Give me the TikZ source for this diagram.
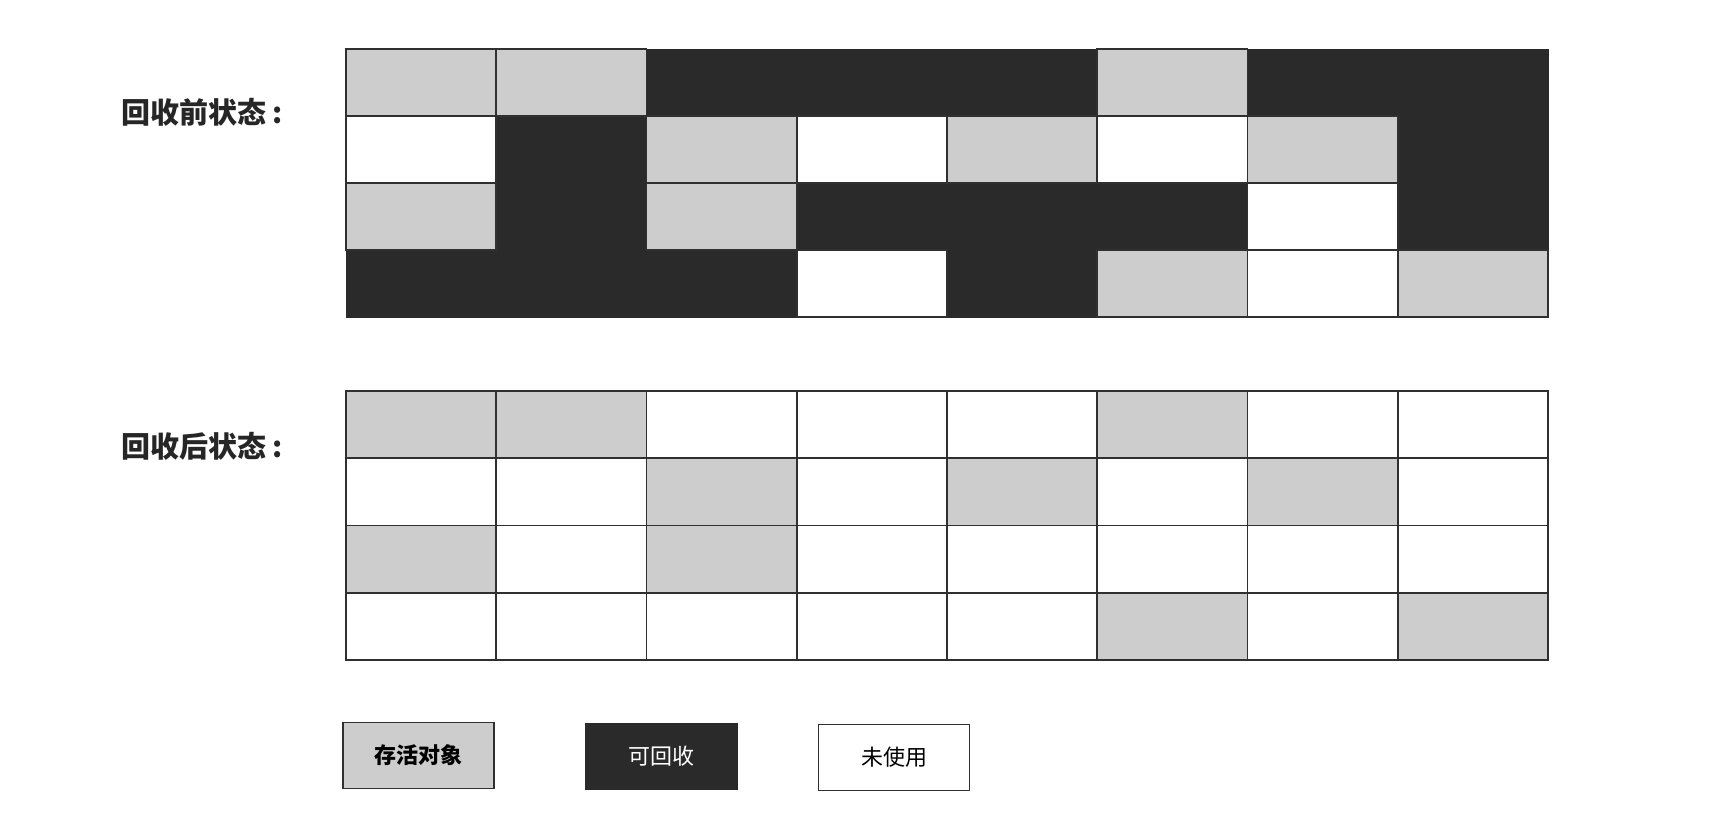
\documentclass[tikz,border=0pt]{standalone}
\usepackage{fontspec}
\newfontfamily\cjk{Noto Sans CJK SC}
\definecolor{live}{HTML}{CDCDCD}
\definecolor{dead}{HTML}{2A2A2A}
\definecolor{linec}{HTML}{303030}
\tikzset{
  s1G/.style={}, s1W/.style={}, s1B/.style={fill=dead,draw=dead,line width=1pt},
  s2B/.style={}, s2G/.style={fill=live,draw=linec,line width=1.8pt},
  s2W/.style={fill=white,draw=linec,line width=1.8pt},
  statelabel/.style={anchor=west,inner sep=0pt,font=\cjk\bfseries\fontsize{29}{32}\selectfont,text=black!85},
  legendbox/.style={minimum width=151pt,minimum height=66pt,inner sep=0pt,line width=1.8pt,draw=linec,font=\cjk\fontsize{22}{26}\selectfont}
}
\begin{document}
\begin{tikzpicture}[x=1pt,y=-1pt]
\useasboundingbox[fill=white] (0,0) rectangle (1732,828);
% before collection
\def\gx{346}\def\cw{150.25}\def\gy{49}\def\rh{67}
\foreach \pass in {1,2}{
\foreach \row [count=\r from 0] in {{G,G,B,B,B,G,B,B},{W,B,G,W,G,W,G,B},{G,B,G,B,B,B,W,B},{B,B,B,W,B,G,W,G}}{
  \foreach \c [count=\k from 0] in \row {
    \path[s\pass\c] ({\gx+\k*\cw},{\gy+\r*\rh}) rectangle ({\gx+(\k+1)*\cw},{\gy+(\r+1)*\rh});
  }
}}
% after collection
\def\hy{391}\def\rhb{67.25}
\foreach \row [count=\r from 0] in {{G,G,W,W,W,G,W,W},{W,W,G,W,G,W,G,W},{G,W,G,W,W,W,W,W},{W,W,W,W,W,G,W,G}}{
  \foreach \c [count=\k from 0] in \row {
    \path[s2\c] ({\gx+\k*\cw},{\hy+\r*\rhb}) rectangle ({\gx+(\k+1)*\cw},{\hy+(\r+1)*\rhb});
  }
}
\node[statelabel] (before) at (121,112) {回收前状态\kern6pt:};
\node[statelabel] (after) at (121,446) {回收后状态\kern6pt:};
% legend
\node[legendbox,fill=live,font=\cjk\bfseries\fontsize{22}{26}\selectfont] (alive) at (418.5,755.5) {存活对象};
\node[legendbox,fill=dead,draw=dead,text=white] (garbage) at (661.5,756.5) {可回收};
\node[legendbox,fill=white] (unused) at (894,757.5) {未使用};
\end{tikzpicture}
\end{document}
